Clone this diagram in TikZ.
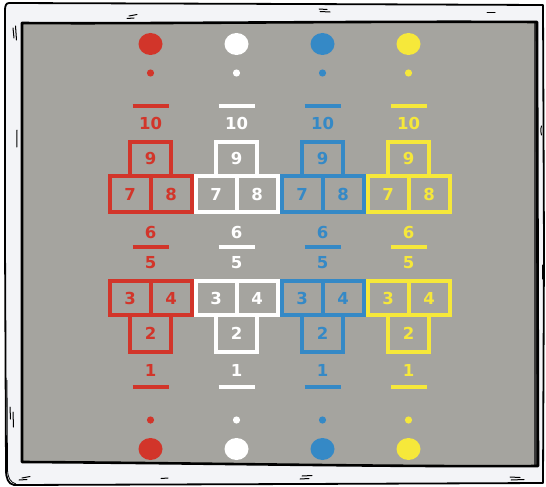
\documentclass[tikz,border=0pt]{standalone}
\usepackage{fontspec}
\setmainfont{DejaVu Sans}
\definecolor{cred}{HTML}{D2352A}
\definecolor{cwhite}{HTML}{FFFFFF}
\definecolor{cblue}{HTML}{3589C6}
\definecolor{cyellow}{HTML}{F6E83A}
\definecolor{panel}{HTML}{A5A49F}
\definecolor{framefill}{HTML}{F3F4F7}
\definecolor{edgedark}{HTML}{3A3A3A}
\tikzset{
  cell/.style={draw, line width=4pt, rectangle, inner sep=0pt, minimum width=41pt, minimum height=#1, font=\fontsize{16.5}{16.5}\selectfont\bfseries},
  cell/.default=36pt,
  numtext/.style={inner sep=0pt, font=\fontsize{16.5}{16.5}\selectfont\bfseries},
  bar/.style={line width=3.5pt},
  tick/.style={line width=1pt, line cap=round},
}
\begin{document}
\begin{tikzpicture}[x=1pt,y=-1pt]
\useasboundingbox (0,0) rectangle (546,487);
\fill[white] (0,0) rectangle (546,487);
% outer sketchy frame
\draw[line width=1.8pt, fill=framefill, line join=round]
  (9,3) -- (300,4) -- (543,5) -- (544,250) -- (543,483)
  -- (300,484) -- (14,485) .. controls (8,484) and (6,478) .. (6,470)
  -- (5,240) -- (5,10) .. controls (5,6) and (6,3) .. (9,3);
\draw[line width=0.8pt] (7,380) -- (7.5,470) .. controls (8,478) and (10,482) .. (16,484);
% inner panel
\fill[panel] (22,23) -- (537,22) -- (537,466) -- (22,462) -- cycle;
\fill[edgedark] (533.5,22) rectangle (537,466);
\draw[line width=2.6pt, line join=round] (22,23) .. controls (150,24) and (350,21) .. (537,22) -- (538,466) .. controls (400,467) and (200,463) .. (22,462) -- cycle;
% ticks
\draw[tick] (13,28) -- (14,38); \draw[tick] (15.5,26) -- (16.5,40);
\draw[tick] (17,130) -- (16.8,147);
\draw[tick] (10,407) -- (10.5,419); \draw[tick] (13,412) -- (13.5,427);
\draw[tick] (129,16) -- (137,14.5); \draw[tick] (127,18.5) -- (134,18);
\draw[tick] (319,9) -- (327,9.5); \draw[tick] (320,11.5) -- (330,12);
\draw[tick] (487,13) -- (495,13);
\draw[tick] (541.5,126) .. controls (540.5,130) .. (541.5,135);
\draw[tick] (542,265) -- (542,279);
\draw[tick] (543,425) -- (543,438);
\draw[tick] (22,478) -- (30,476.5); \draw[tick] (19,480) -- (27,479.5);
\draw[tick] (161,478.5) -- (168,478);
\draw[tick] (302,476) -- (312,475.5); \draw[tick] (300,479) -- (309,478.5);
\draw[tick] (510,477) -- (520,477.5); \draw[tick] (511,480) -- (524,479.5);
% hopscotch columns
\foreach \cx/\col/\nm in {150.5/cred/r, 236.5/cwhite/w, 322.5/cblue/b, 408.5/cyellow/y} {
  \fill[\col] (\cx,44) ellipse (12pt and 11pt);
  \fill[\col] (\cx,73) circle (3.6pt);
  \coordinate (\nm bta) at (\cx-18,106);
  \coordinate (\nm btb) at (\cx+18,106);
  \draw[bar,\col] (\nm bta) -- (\nm btb);
  \node[numtext,text=\col] (\nm n10) at (\cx,123) {10};
  \node[cell=34pt,draw=\col,text=\col] (\nm c9) at (\cx,159) {9};
  \node[cell,draw=\col,text=\col] (\nm c7) at (\cx-20.5,194) {7};
  \node[cell,draw=\col,text=\col] (\nm c8) at (\cx+20.5,194) {8};
  \node[numtext,text=\col] (\nm n6) at (\cx,232) {6};
  \coordinate (\nm bma) at (\cx-18,247);
  \coordinate (\nm bmb) at (\cx+18,247);
  \draw[bar,\col] (\nm bma) -- (\nm bmb);
  \node[numtext,text=\col] (\nm n5) at (\cx,263) {5};
  \node[cell=34pt,draw=\col,text=\col] (\nm c3) at (\cx-20.5,298) {3};
  \node[cell=34pt,draw=\col,text=\col] (\nm c4) at (\cx+20.5,298) {4};
  \node[cell=37pt,draw=\col,text=\col] (\nm c2) at (\cx,333.5) {2};
  \node[numtext,text=\col] (\nm n1) at (\cx,370) {1};
  \coordinate (\nm bba) at (\cx-18,387);
  \coordinate (\nm bbb) at (\cx+18,387);
  \draw[bar,\col] (\nm bba) -- (\nm bbb);
  \fill[\col] (\cx,420) circle (3.6pt);
  \fill[\col] (\cx,449) ellipse (12pt and 11pt);
}
\end{tikzpicture}
\end{document}
